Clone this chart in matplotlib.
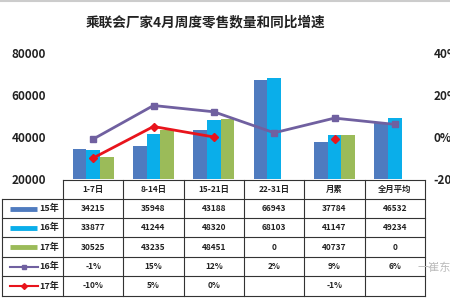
import matplotlib
matplotlib.use("Agg")
import matplotlib.pyplot as plt
import numpy as np

plt.rcParams['font.family'] = ['Noto Sans CJK SC', 'DejaVu Sans']

title = "乘联会厂家4月周度零售数量和同比增速"
categories = ["1-7日", "8-14日", "15-21日", "22-31日", "月累", "全月平均"]
sales_15 = [34215, 35948, 43188, 66943, 37784, 46532]
sales_16 = [33877, 41244, 48320, 68103, 41147, 49234]
sales_17 = [30525, 43235, 48451, 0, 40737, 0]
growth_16 = [-1, 15, 12, 2, 9, 6]
growth_17 = [-10, 5, 0, None, -1, None]
left_ticks = [20000, 40000, 60000, 80000]
right_ticks = [-20, 0, 20, 40]

C15 = "#4F7BBF"
C16 = "#0AAEEA"
C17 = "#9BBB59"
CP = "#7060A0"
CR = "#E8141C"

W, H = 450, 300
fig = plt.figure(figsize=(W / 100, H / 100), dpi=100)

def px(x0, y0, x1, y1):
    return [x0 / W, 1 - y1 / H, (x1 - x0) / W, (y1 - y0) / H]

ax = fig.add_axes(px(63, 53, 425, 179))
n = len(categories)
x = np.arange(n)
bw = 0.225
ax.bar(x - bw, sales_15, bw, color=C15, zorder=2)
ax.bar(x, sales_16, bw, color=C16, zorder=2)
ax.bar(x + bw, sales_17, bw, color=C17, zorder=2)
ax.set_xlim(-0.5, n - 0.5)
ax.set_ylim(20000, 80000)
ax.set_yticks(left_ticks)
ax.set_yticklabels([str(t) for t in left_ticks], fontsize=8.5, fontweight='bold', color='#222222')
ax.set_xticks([])
ax.tick_params(axis='y', length=0, pad=12)
for s in ax.spines.values():
    s.set_visible(False)

ax2 = ax.twinx()
g16 = np.array([np.nan if v is None else v for v in growth_16], dtype=float)
g17 = np.array([np.nan if v is None else v for v in growth_17], dtype=float)
ax2.plot(x, g16, color=CP, lw=2.0, marker='s', ms=5, zorder=3)
ax2.plot(x, g17, color=CR, lw=2.0, marker='D', ms=4.5, zorder=4)
ax2.set_ylim(-20, 40)
ax2.set_yticks(right_ticks)
ax2.set_yticklabels([f"{t}%" for t in right_ticks], fontsize=8.5, fontweight='bold', color='#222222')
ax2.tick_params(axis='y', length=0, pad=6)
for s in ax2.spines.values():
    s.set_visible(False)

fig.text(205 / W, 1 - 22 / H, title, ha='center', va='center', fontsize=9.8, fontweight='bold', color='#222222')

# table
tab = fig.add_axes([0, 0, 1, 1])
tab.set_xlim(0, W)
tab.set_ylim(H, 0)
tab.axis('off')
tab.patch.set_alpha(0)

col_w = (425 - 63) / n
col_edges = [63 + i * col_w for i in range(n + 1)]
row_edges = [180, 199, 218, 237, 257, 276, 296]
lc = '#333333'
lw = 0.8
tab.plot([63, 425], [row_edges[0]] * 2, color=lc, lw=lw)
for y in row_edges[1:]:
    tab.plot([2, 425], [y, y], color=lc, lw=lw)
tab.plot([2, 2], [row_edges[1], row_edges[-1]], color=lc, lw=lw)
for xe in col_edges:
    tab.plot([xe, xe], [row_edges[0], row_edges[-1]], color=lc, lw=lw)

def rc(i):
    return (row_edges[i] + row_edges[i + 1]) / 2

for j, c in enumerate(categories):
    cx = (col_edges[j] + col_edges[j + 1]) / 2
    tab.text(cx, rc(0), c, ha='center', va='center', fontsize=6, fontweight='bold', color='#222222')

rows = [
    ("15年", [str(v) for v in sales_15], 'bar', C15),
    ("16年", [str(v) for v in sales_16], 'bar', C16),
    ("17年", [str(v) for v in sales_17], 'bar', C17),
    ("16年", ["" if v is None else f"{v}%" for v in growth_16], 'line16', CP),
    ("17年", ["" if v is None else f"{v}%" for v in growth_17], 'line17', CR),
]
for i, (lab, vals, kind, col) in enumerate(rows):
    cy = rc(i + 1)
    if kind == 'bar':
        tab.plot([10, 37], [cy, cy], color=col, lw=3.5, solid_capstyle='butt')
    elif kind == 'line16':
        tab.plot([10, 38], [cy, cy], color=col, lw=1.5)
        tab.plot([24], [cy], marker='s', ms=3.5, color=col)
    else:
        tab.plot([10, 38], [cy, cy], color=col, lw=1.5)
        tab.plot([24], [cy], marker='D', ms=3, color=col)
    tab.text(39, cy, lab, ha='left', va='center', fontsize=6.5, fontweight='bold', color='#222222')
    for j, v in enumerate(vals):
        cx = (col_edges[j] + col_edges[j + 1]) / 2
        tab.text(cx, cy, v, ha='center', va='center', fontsize=6, fontweight='bold', color='#222222')

tab.plot([0, W], [0.8, 0.8], color='#cccccc', lw=1.5)
tab.text(418, 268, "一崔东树", ha='left', va='center', fontsize=8, color='#bbbbbb')

fig.savefig("out.png", dpi=100)
